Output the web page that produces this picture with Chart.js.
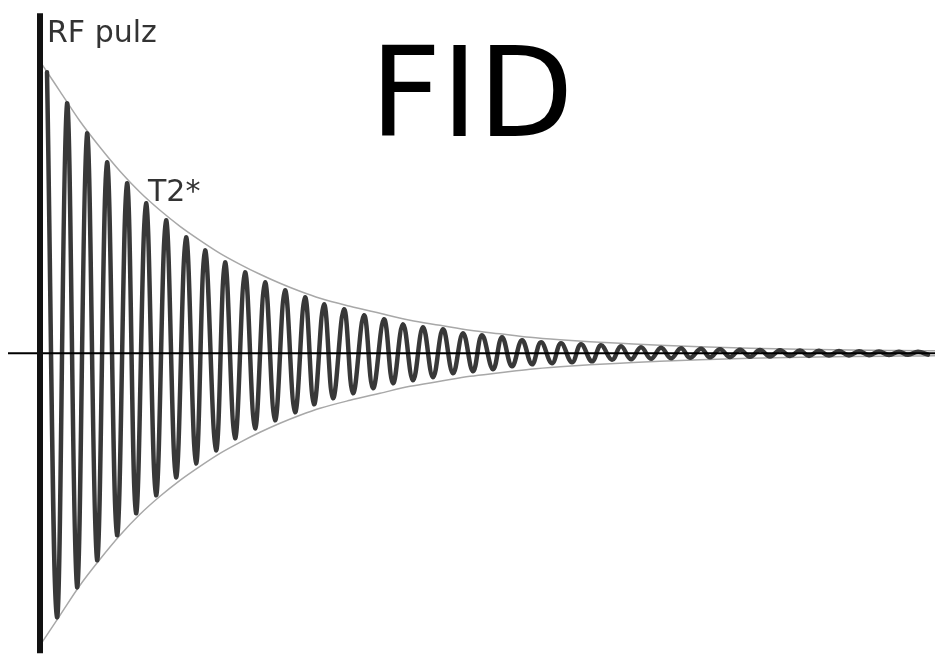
<!DOCTYPE html>
<html>
<head>
<meta charset="utf-8">
<script src="https://cdn.jsdelivr.net/npm/chart.js@4/dist/chart.umd.min.js"></script>
<style>
  html, body { margin: 0; padding: 0; background: #fff; }
  #wrap { position: relative; width: 935px; height: 655px; }
</style>
</head>
<body>
<div id="wrap"><canvas id="fid"></canvas></div>
<script>
// values (time and amplitude in arbitrary units)
const peakTime = [47, 67, 87, 107, 127, 146, 166, 186, 205, 225, 245, 265, 285, 305, 324, 344, 364, 384, 403, 423,
  443, 463, 482, 502, 522, 541, 561, 581, 601, 621, 641, 661, 681, 701, 720, 740, 760, 780, 800, 819, 839, 859, 879, 899, 918]
const peakAmp = [281, 250, 220, 191, 170, 150, 133, 116, 103, 91, 81, 71, 63, 56, 49, 44, 38, 34, 29, 26,
  24, 20, 18, 16, 13, 11, 10, 9, 8, 7, 6, 5.5, 5, 4.5, 4, 3.6, 3.3, 3, 2.7, 2.5, 2.2, 2, 1.8, 1.6, 1.5]
const troughTime = [57, 77, 97, 117, 136, 156, 176, 196, 216, 235, 255, 275, 295, 314, 333, 353, 373, 393, 413, 433,
  453, 473, 493, 512, 532, 552, 572, 592, 612, 631, 651, 671, 690, 710, 730, 750, 770, 790, 809, 829, 849, 869, 889, 908, 928]
const troughAmp = [264, 234, 207, 182, 160, 142, 124, 110, 97, 85, 75, 67, 59, 51, 45, 40, 35, 30, 27, 24,
  20, 18, 16, 13, 11, 10, 9, 8, 6.5, 6, 5.5, 5, 4.5, 4, 3.7, 3.4, 3.1, 2.8, 2.6, 2.3, 2.1, 1.9, 1.7, 1.5, 1.4]

// T2* envelope
const envTime = [40, 60, 80, 100, 120, 140, 160, 180, 200, 220, 240, 260, 280, 300, 320, 350, 380, 410, 440, 470,
  500, 530, 560, 590, 620, 660, 700, 750, 800, 850, 900, 935]
const envAmp = [292, 262, 232, 206, 182, 161, 143, 127, 113, 100, 89, 79, 70, 62, 55, 47, 40, 33, 28, 23,
  19.5, 16, 13.5, 11.5, 10, 8, 6.5, 5, 4, 3.3, 2.8, 2.5]

// RF pulse and baseline
const pulseTime = [40, 40]
const pulseAmp = [340, -300]
const baseTime = [8, 935]
const baseAmp = [0, 0]

const labels = [
  { text: 'RF pulz', x: 47, y: 42, font: '30px "DejaVu Sans"', color: '#333' },
  { text: 'T2*', x: 148, y: 201, font: '30px "DejaVu Sans"', color: '#333' },
  { text: 'FID', x: 370, y: 136, font: '124px "DejaVu Sans"', color: '#000' }
]

const zip = (xs, ys, sign = 1) => xs.map((x, i) => ({ x: x, y: sign * ys[i] }))

let signal = []
peakTime.forEach((t, i) => {
  signal.push({ x: t, y: peakAmp[i] })
  signal.push({ x: troughTime[i], y: -troughAmp[i] })
})

const textPlugin = {
  id: 'textLabels',
  afterDraw(chart) {
    const ctx = chart.ctx
    ctx.save()
    ctx.textBaseline = 'alphabetic'
    ctx.textAlign = 'left'
    labels.forEach(l => {
      ctx.font = l.font
      ctx.fillStyle = l.color
      ctx.fillText(l.text, l.x, l.y)
    })
    ctx.restore()
  }
}

new Chart(document.getElementById('fid'), {
  type: 'line',
  data: {
    datasets: [
      { data: zip(pulseTime, pulseAmp), borderColor: '#111', borderWidth: 6, order: 0 },
      { data: zip(baseTime, baseAmp), borderColor: '#000', borderWidth: 2, order: 1 },
      { data: signal, borderColor: '#383838', borderWidth: 4.5, tension: 0.4,
        borderCapStyle: 'round', borderJoinStyle: 'round', order: 2 },
      { data: zip(envTime, envAmp), borderColor: '#a8a8a8', borderWidth: 1.5,
        cubicInterpolationMode: 'monotone', order: 3 },
      { data: zip(envTime, envAmp, -1), borderColor: '#a8a8a8', borderWidth: 1.5,
        cubicInterpolationMode: 'monotone', order: 3 }
    ]
  },
  options: {
    responsive: true,
    maintainAspectRatio: false,
    animation: false,
    events: [],
    layout: { padding: 0 },
    elements: { point: { radius: 0 }, line: { fill: false } },
    plugins: { legend: { display: false }, tooltip: { enabled: false } },
    scales: {
      x: { type: 'linear', min: 0, max: 935, display: false },
      y: { type: 'linear', min: -301.7, max: 353.3, display: false }
    }
  },
  plugins: [textPlugin]
})
</script>
</body>
</html>
